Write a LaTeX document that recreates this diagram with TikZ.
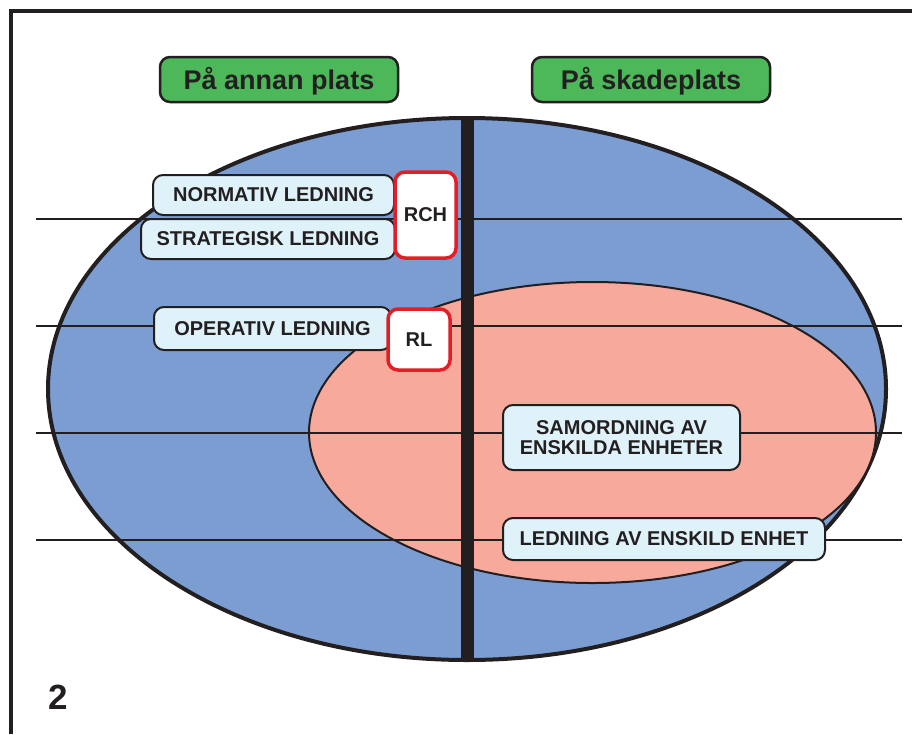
\documentclass[tikz,border=0pt]{standalone}
\usepackage{fontspec}
\setmainfont{Liberation Sans}
\usetikzlibrary{shapes.geometric}

\definecolor{zoneblue}{RGB}{123,157,209}
\definecolor{zonepink}{RGB}{247,170,156}
\definecolor{boxblue}{RGB}{223,242,250}
\definecolor{sitegreen}{RGB}{76,184,90}
\definecolor{orgred}{RGB}{228,30,38}
\definecolor{ink}{RGB}{35,31,32}

\begin{document}
\begin{tikzpicture}[
  x=1pt, y=-1pt,
  zone/.style={ellipse, draw=ink, inner sep=0pt},
  site/.style={draw=ink, line width=2.5pt, fill=sitegreen, rounded corners=10pt,
    minimum width=238pt, minimum height=45pt, inner sep=0pt, text=ink,
    text height=19.3pt, text depth=0pt, font=\fontsize{27}{27}\selectfont\bfseries},
  level/.style={draw=ink, line width=2pt, fill=boxblue, rounded corners=10pt,
    inner sep=0pt, text=ink, align=center, font=\fontsize{20}{20}\selectfont\bfseries},
  org/.style={draw=orgred, line width=3.5pt, fill=white, rounded corners=10pt,
    inner sep=0pt, text=ink, font=\fontsize{20}{20}\selectfont\bfseries},
  rule/.style={draw=ink, line width=1.6pt}
]
\useasboundingbox (0,0) rectangle (912,734);

% page frame
\draw[ink, line width=3.5pt] (11,734) -- (11,11) -- (912,11);

% headings
\node[site] (annan) at (279,79.5) {På annan plats};
\node[site] (skade) at (651,79.5) {På skadeplats};

% the two zones
\node[zone, fill=zoneblue, line width=4pt, minimum width=838pt, minimum height=542pt] (outer) at (467,389) {};
\node[zone, fill=zonepink, line width=2pt, minimum width=567pt, minimum height=301pt] (inner) at (592.5,432.5) {};

% level lines
\foreach \y [count=\i] in {219,326,433,540} {
  \coordinate (w\i) at (36,\y);
  \coordinate (e\i) at (902,\y);
  \draw[rule] (w\i) -- (e\i);
}

% divider
\draw[ink, line width=13pt] (outer.north) -- (outer.south);

% levels
\node[level, minimum width=241pt, minimum height=40pt] (normativ) at (273.5,195) {NORMATIV LEDNING};
\node[level, minimum width=254pt, minimum height=40pt] (strategisk) at (268,239) {STRATEGISK LEDNING};
\node[level, minimum width=237pt, minimum height=43pt] (operativ) at (272.5,328.5) {OPERATIV LEDNING};
\node[level, minimum width=237pt, minimum height=65pt] (samordning) at (621.5,437.5) {SAMORDNING AV\\ENSKILDA ENHETER};
\node[level, minimum width=322pt, minimum height=42pt] (enhet) at (664,539) {LEDNING AV ENSKILD ENHET};

% RCH and RL
\node[org, minimum width=61pt, minimum height=86pt] (rch) at (425.5,215) {RCH};
\node[org, minimum width=62pt, minimum height=61pt] (rl) at (419,339.5) {RL};

\node[text=ink, font=\fontsize{35}{35}\selectfont\bfseries] (nr) at (58,697) {2};
\end{tikzpicture}
\end{document}
